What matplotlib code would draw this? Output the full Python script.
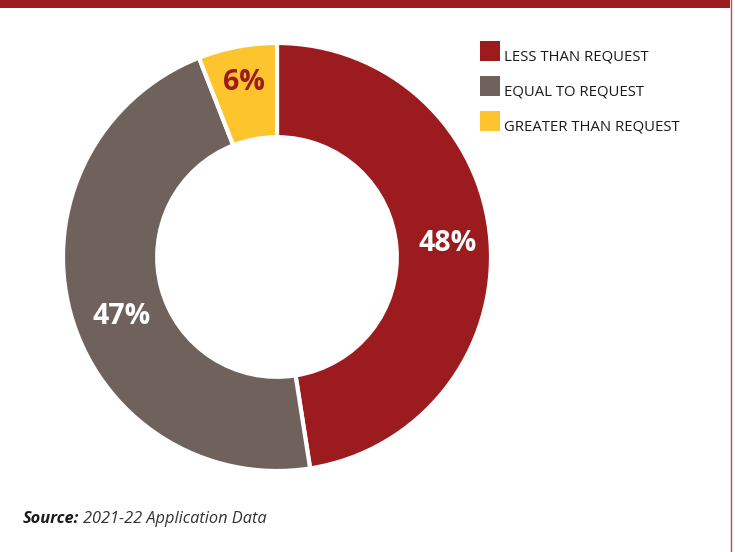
import matplotlib.pyplot as plt
import numpy as np
from matplotlib.lines import Line2D
from matplotlib.patches import Rectangle

categories = ["LESS THAN REQUEST", "EQUAL TO REQUEST", "GREATER THAN REQUEST"]
shares = [48, 47, 6]
colors = ["#9b1b1f", "#6f625d", "#fec42d"]
label_colors = ["white", "white", "#9b1b1f"]

W, H = 735, 552
fig = plt.figure(figsize=(W / 100, H / 100), dpi=100)
fig.patch.set_facecolor("white")

# donut: outer radius 214px centred at (277, 257)
cx, cy, r = 277, 257, 214
ax = fig.add_axes([(cx - r) / W, (H - cy - r) / H, 2 * r / W, 2 * r / H])
ring = 0.44
wedges, _ = ax.pie(shares, colors=colors, startangle=90, counterclock=False,
                   radius=1, wedgeprops=dict(width=ring, edgecolor="white", linewidth=3))
ax.set_xlim(-1, 1)
ax.set_ylim(-1, 1)
ax.set_aspect("equal")
ax.axis("off")

# percentage labels in the middle of each ring segment
total = sum(shares)
start = 90.0
label_r = [0.8, 0.75, 0.83]
offsets = [0, -0.08, 0]
for i, v in enumerate(shares):
    span = 360.0 * v / total
    mid = np.deg2rad(start - span / 2)
    start -= span
    x = label_r[i] * np.cos(mid)
    y = label_r[i] * np.sin(mid) + offsets[i]
    ax.text(x, y, f"{v}%", ha="center", va="center", fontsize=20.5,
            fontweight="bold", color=label_colors[i], family="Open Sans")

# legend squares and labels
for i, (name, c) in enumerate(zip(categories, colors)):
    top = 41 + i * 35
    fig.add_artist(Rectangle((480 / W, 1 - (top + 20) / H), 20 / W, 20 / H,
                             transform=fig.transFigure, facecolor=c, edgecolor="none"))
    fig.text(504 / W, 1 - (top + 16) / H, name, ha="left", va="center",
             fontsize=10.7, fontweight="medium", color="#1a1a1a", family="Open Sans")

# source note
src = fig.text(23 / W, 1 - 519 / H, "Source:", ha="left", va="center", fontsize=11.8,
               fontweight="bold", style="italic", color="#1a1a1a", family="Open Sans")
fig.canvas.draw()
bb = src.get_window_extent()
fig.text((bb.x1 + 4) / W, 1 - 519 / H, "2021-22 Application Data", ha="left", va="center",
         fontsize=11.8, style="italic", color="#333333", family="Open Sans")

# top band and right rule
fig.add_artist(Rectangle((0, 1 - 8 / H), 730 / W, 8 / H, transform=fig.transFigure,
                         facecolor="#9b1b1f", edgecolor="none"))
fig.add_artist(Line2D([730.5 / W, 730.5 / W], [0, 1], transform=fig.transFigure,
                      color="#c9474a", linewidth=1))

fig.savefig("out.png", dpi=100, facecolor="white")
